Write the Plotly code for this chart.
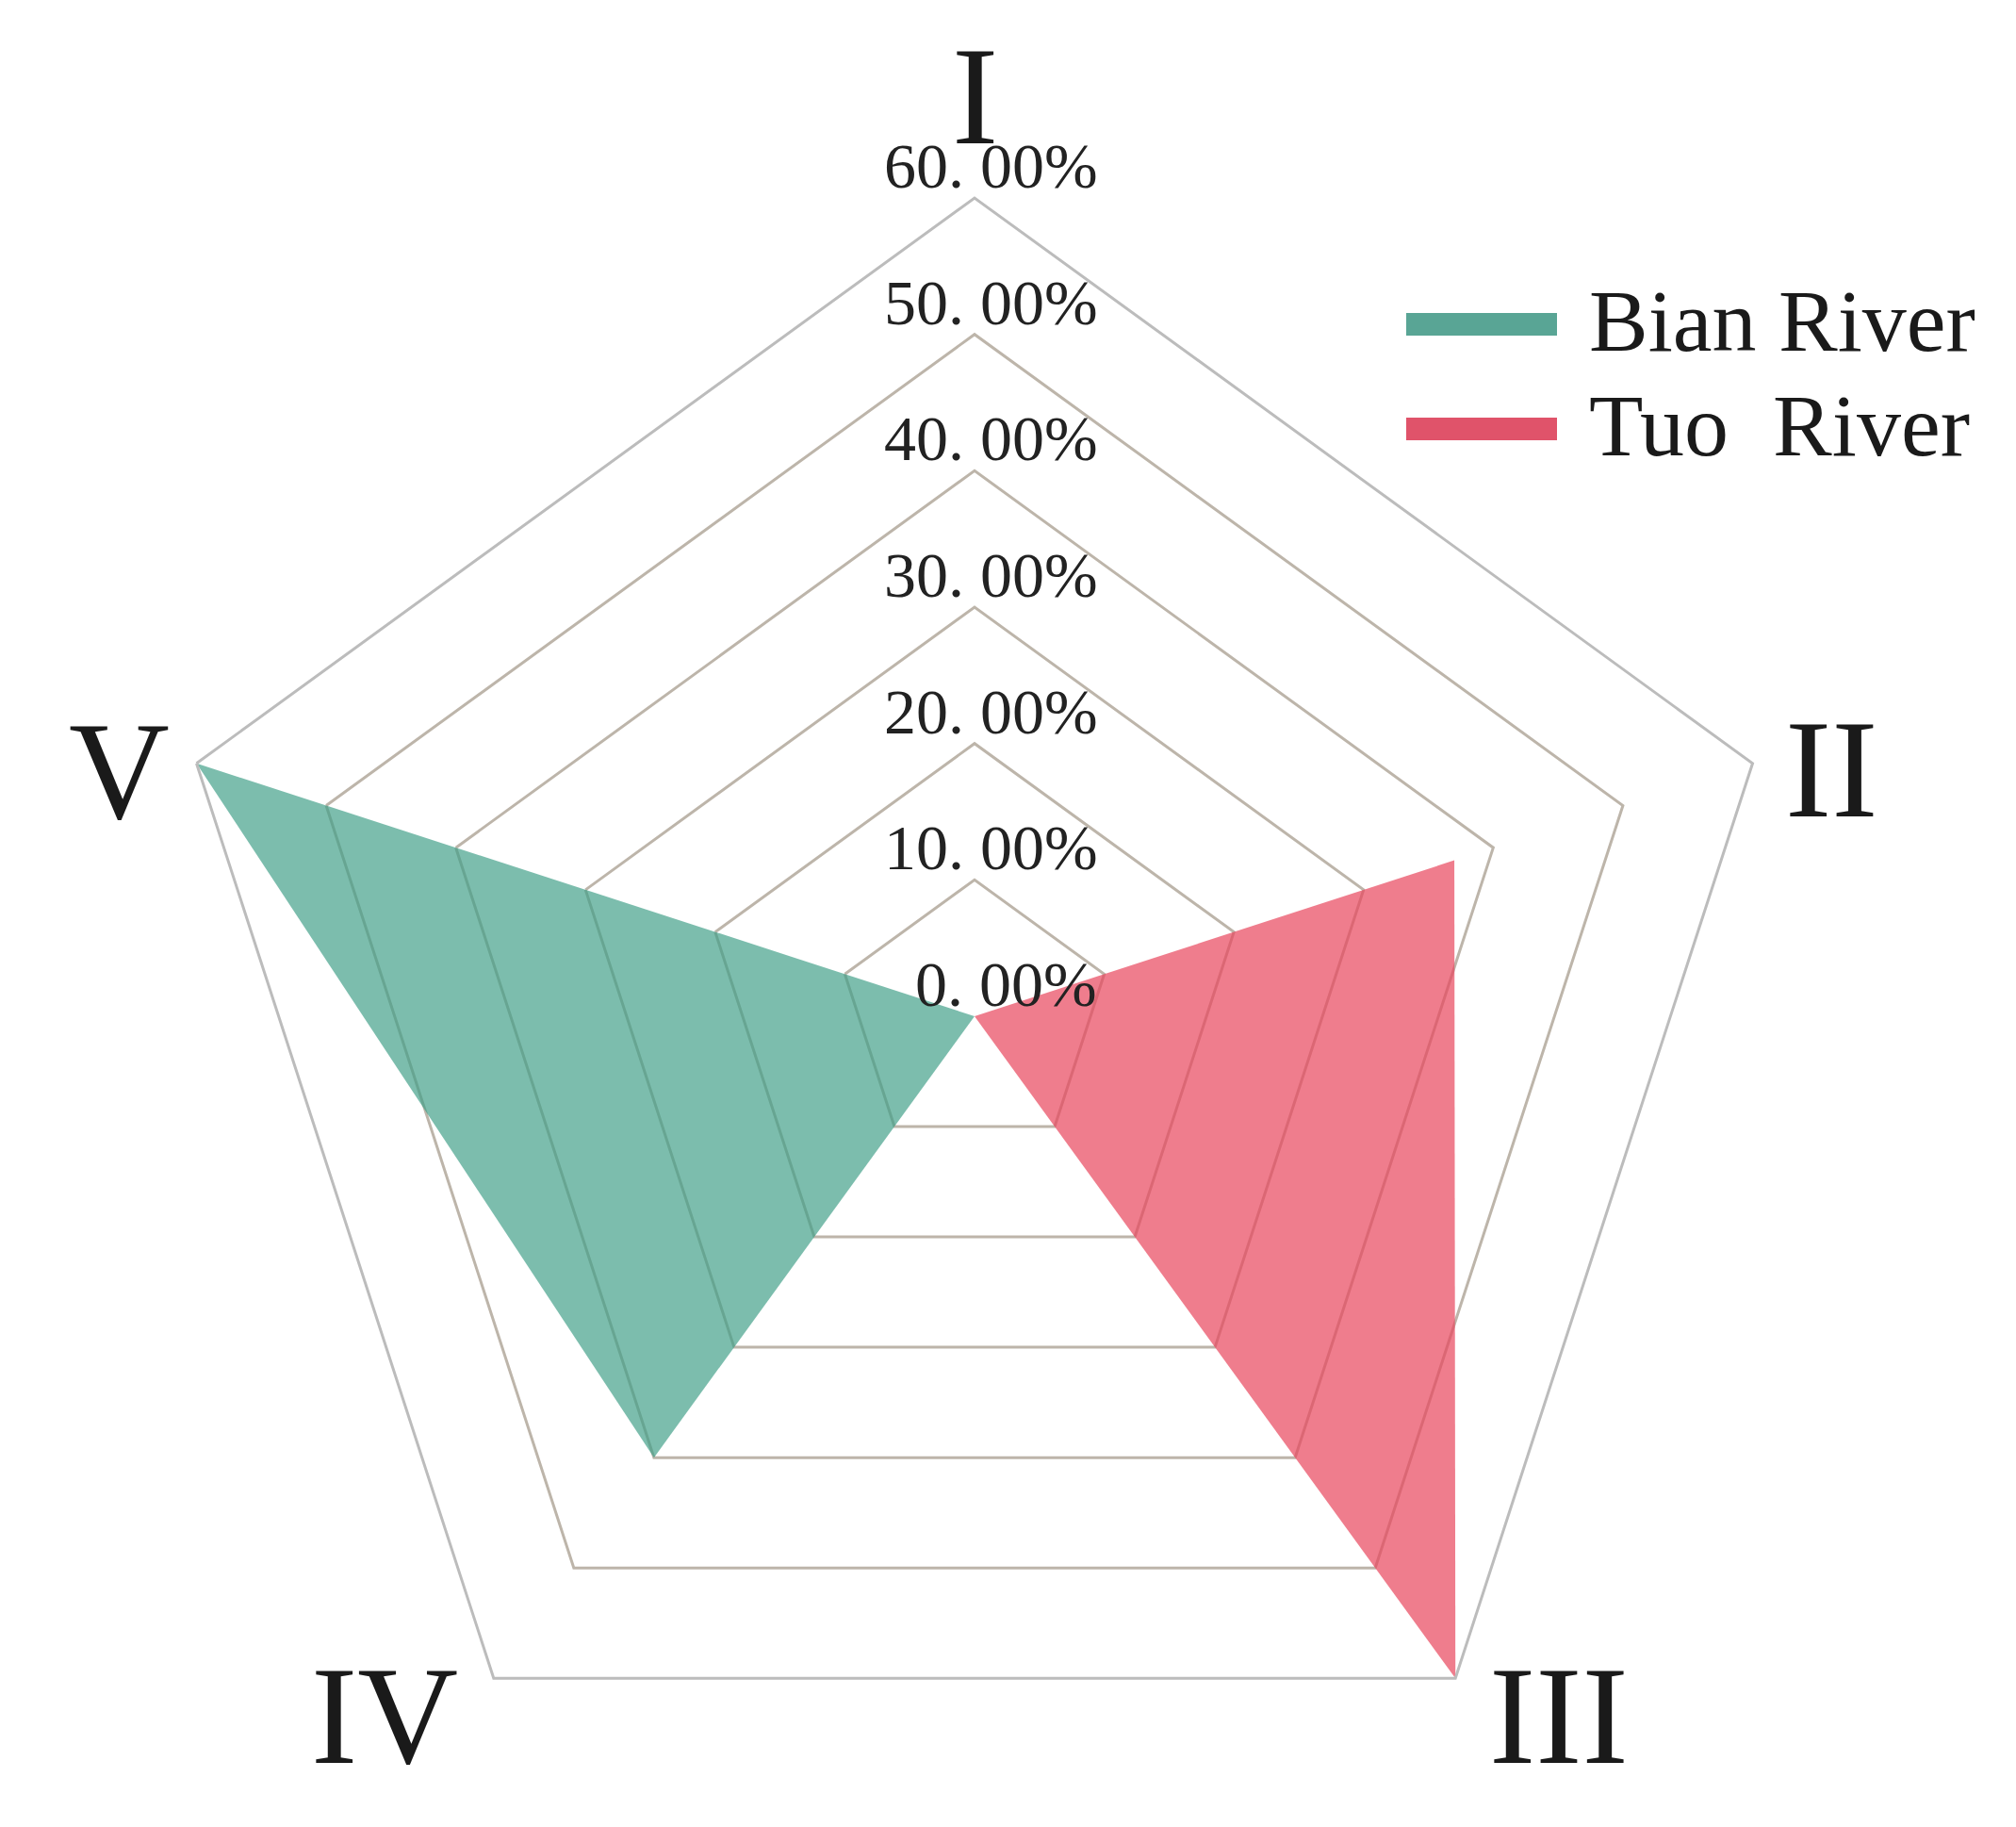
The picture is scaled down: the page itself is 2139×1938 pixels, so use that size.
import math
import plotly.graph_objects as go

## data
categories = ["I", "II", "III", "IV", "V"]
bian_river = [0, 0, 0, 40, 60]
tuo_river = [0, 37, 60, 0, 0]
tick_vals = [0, 10, 20, 30, 40, 50, 60]
tick_labels = ["0. 00%", "10. 00%", "20. 00%", "30. 00%", "40. 00%", "50. 00%", "60. 00%"]
series_names = ["Bian River", "Tuo\u00a0 River"]

## layout in pixels
W, H = 2139, 1938
CX, CY, R = 1026, 1070, 868
RMAX = 60
FONT = "Times New Roman, Liberation Serif, serif"
fill_colors = ["rgba(62,158,134,0.68)", "rgba(232,70,92,0.70)"]
swatch_colors = ["#59a595", "#e0536a"]


def px(x):
    return x / W


def py(y):
    return 1 - y / H


fig = go.Figure()
for name, vals, col in zip(series_names, [bian_river, tuo_river], fill_colors):
    fig.add_trace(
        go.Scatterpolar(
            r=vals + [vals[0]],
            theta=categories + [categories[0]],
            name=name,
            mode="lines",
            fill="toself",
            fillcolor=col,
            line=dict(width=0, color=col),
        )
    )

fig.update_layout(
    width=W,
    height=H,
    margin=dict(l=0, r=0, t=0, b=0),
    paper_bgcolor="white",
    showlegend=False,
    polar=dict(
        domain=dict(x=[px(CX - R), px(CX + R)], y=[py(CY + R), py(CY - R)]),
        gridshape="linear",
        bgcolor="white",
        radialaxis=dict(
            range=[0, RMAX],
            tickvals=tick_vals[1:-1],
            showticklabels=False,
            showline=False,
            ticks="",
            gridcolor="#bdb5aa",
            gridwidth=3,
        ),
        angularaxis=dict(
            direction="clockwise",
            rotation=90,
            showticklabels=False,
            showgrid=False,
            ticks="",
            showline=True,
            linecolor="#bcbcbc",
            linewidth=3,
        ),
    ),
)

############### category labels outside the pentagon corners
label_pos = {
    "I": dict(xanchor="center", yanchor="bottom", xshift=0, yshift=24),
    "II": dict(xanchor="left", yanchor="middle", xshift=32, yshift=-6),
    "III": dict(xanchor="left", yanchor="middle", xshift=34, yshift=-40),
    "IV": dict(xanchor="right", yanchor="middle", xshift=-36, yshift=-40),
    "V": dict(xanchor="right", yanchor="middle", xshift=-26, yshift=-8),
}
for k, cat in enumerate(categories):
    th = math.radians(90 - 72 * k)
    vx = CX + R * math.cos(th)
    vy = CY - R * math.sin(th)
    fig.add_annotation(
        x=px(vx), y=py(vy), xref="paper", yref="paper", text=cat,
        showarrow=False, font=dict(family=FONT, size=148, color="#1a1a1a"),
        **label_pos[cat],
    )

############### radial tick labels along the top axis
for v, t in zip(tick_vals, tick_labels):
    fig.add_annotation(
        x=px(CX), y=py(CY - R * v / RMAX), xref="paper", yref="paper", text=t,
        showarrow=False, xanchor="left", yanchor="bottom",
        xshift=-(len(t.split(".")[0]) * 33 + 32), yshift=-6,
        font=dict(family=FONT, size=68, color="#222222"),
    )

############### legend
legend_y = [336, 447]
for name, col, ly in zip(series_names, swatch_colors, legend_y):
    fig.add_shape(
        type="rect", xref="paper", yref="paper",
        x0=px(1484), x1=px(1644), y0=py(ly - 12), y1=py(ly + 12),
        fillcolor=col, line_width=0,
    )
    fig.add_annotation(
        x=px(1676), y=py(ly - 4), xref="paper", yref="paper", text=name,
        showarrow=False, xanchor="left", yanchor="middle",
        font=dict(family=FONT, size=94, color="#1a1a1a"),
    )

fig.write_html("out.html")
